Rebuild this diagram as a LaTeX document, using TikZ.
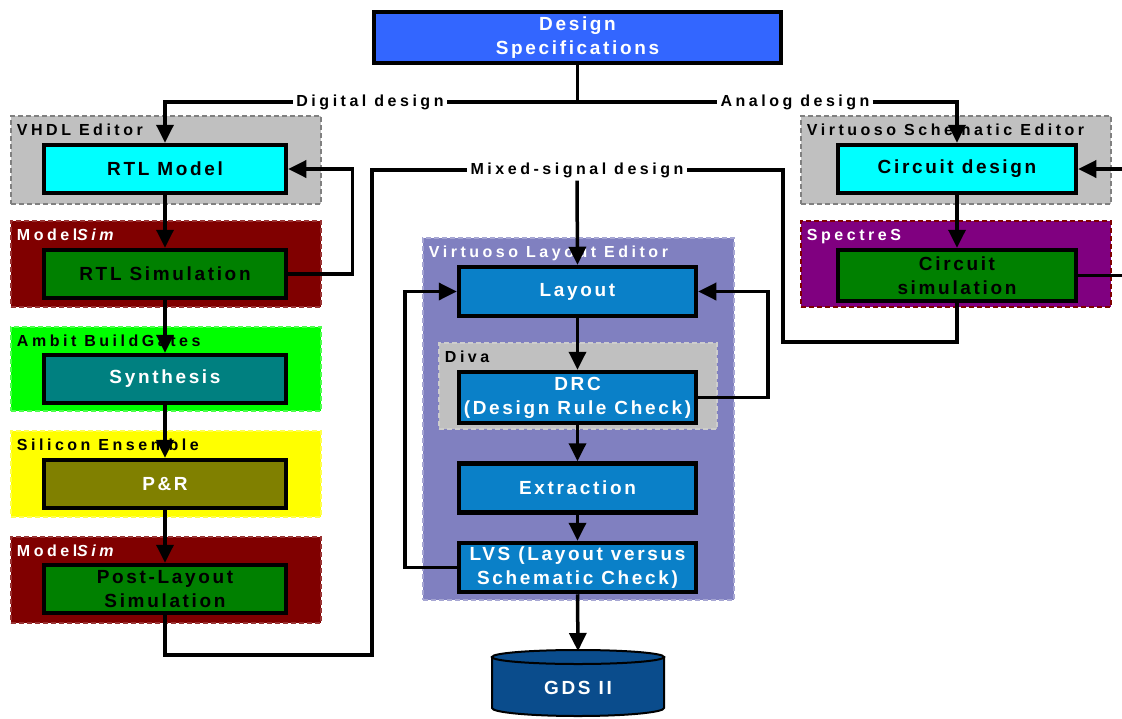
\documentclass[tikz,border=0pt]{standalone}
\usepackage{fontspec}
\setmainfont[LetterSpace=22]{Liberation Sans}
\newfontfamily\boxfont[LetterSpace=14]{Liberation Sans}
\usetikzlibrary{arrows.meta}
\definecolor{specblue}{HTML}{3366FF}
\definecolor{cyanbox}{HTML}{00FFFF}
\definecolor{greenbox}{HTML}{008000}
\definecolor{tealbox}{HTML}{008080}
\definecolor{olivebox}{HTML}{808000}
\definecolor{procblue}{HTML}{0A80C8}
\definecolor{gdsblue}{HTML}{0A4C8C}
\definecolor{grpgray}{HTML}{C0C0C0}
\definecolor{grpred}{HTML}{800000}
\definecolor{grpgreen}{HTML}{00FF00}
\definecolor{grpyellow}{HTML}{FFFF00}
\definecolor{grppurple}{HTML}{800080}
\definecolor{grplav}{HTML}{8080C0}
\begin{document}
\begin{tikzpicture}[x=1pt,y=-1pt,
  grp/.style={line width=2.5pt, dash pattern=on 5pt off 3pt, inner sep=0pt},
  box/.style={draw=black, line width=4.5pt, inner sep=0pt, align=center,
    font=\boxfont\fontsize{19}{24}\selectfont\bfseries},
  glabel/.style={inner sep=0pt, anchor=north west, font=\fontsize{16}{19}\selectfont\bfseries},
  clabel/.style={inner sep=3pt, fill=white, font=\fontsize{16}{19}\selectfont\bfseries},
  ln/.style={line width=3.5pt},
  arr/.style={line width=3.5pt, -{Triangle[length=18pt,width=17pt]}}]
\useasboundingbox (0,0) rectangle (1122,718);

% ---------- groups ----------
\node[grp, draw=gray, fill=grpgray, minimum width=310pt, minimum height=88pt] (gvhdl) at (166,160) {};
\node[grp, draw=grpred!80!white, fill=grpred, minimum width=310pt, minimum height=86pt] (gms1) at (166,264) {};
\node[grp, draw=grpgreen!70!white, fill=grpgreen, minimum width=310pt, minimum height=84pt] (gamb) at (166,369) {};
\node[grp, draw=grpyellow!70!white, fill=grpyellow, minimum width=310pt, minimum height=86pt] (gsil) at (166,474) {};
\node[grp, draw=grpred!80!white, fill=grpred, minimum width=310pt, minimum height=86pt] (gms2) at (166,580) {};
\node[grp, draw=gray, fill=grpgray, minimum width=310pt, minimum height=88pt] (gvse) at (956,160) {};
\node[grp, draw=grpred, fill=grppurple, minimum width=310pt, minimum height=86pt] (gspe) at (956,264) {};
\node[grp, draw=grplav!70!white, fill=grplav, minimum width=311pt, minimum height=362pt] (gvle) at (578.5,419) {};
\node[grp, draw=grpgray!80!white, fill=grpgray, minimum width=278pt, minimum height=86pt] (gdiva) at (578,386) {};

\node[glabel] (lvhdl) at ([shift={(7pt,-9pt)}]gvhdl.north west) {VHDL Editor};
\node[glabel, text=white] (lms1) at ([shift={(7pt,-9pt)}]gms1.north west) {Model\textit{Sim}};
\node[glabel] (lamb) at ([shift={(7pt,-9pt)}]gamb.north west) {Ambit BuildGates};
\node[glabel] (lsil) at ([shift={(7pt,-9pt)}]gsil.north west) {Silicon Ensemble};
\node[glabel, text=white] (lms2) at ([shift={(7pt,-9pt)}]gms2.north west) {Model\textit{Sim}};
\node[glabel] (lvse) at ([shift={(7pt,-9pt)}]gvse.north west) {Virtuoso Schematic Editor};
\node[glabel, text=white] (lspe) at ([shift={(7pt,-9pt)}]gspe.north west) {SpectreS};
\node[glabel, text=white] (lvle) at ([shift={(7pt,-9pt)}]gvle.north west) {Virtuoso Layout Editor};
\node[glabel] (ldiva) at ([shift={(7pt,-9pt)}]gdiva.north west) {Diva};

% ---------- boxes ----------
\node[box, fill=specblue, text=white, minimum width=407pt, minimum height=51pt] (spec) at (577.5,37.5) {Design\\Specifications};
\node[box, fill=cyanbox, minimum width=242pt, minimum height=48pt] (rtl) at (165,169) {RTL Model};
\node[box, fill=greenbox, minimum width=242pt, minimum height=48pt] (rtlsim) at (165,274) {RTL Simulation};
\node[box, fill=tealbox, text=white, minimum width=242pt, minimum height=48pt] (syn) at (165,379) {Synthesis};
\node[box, fill=olivebox, text=white, minimum width=242pt, minimum height=48pt] (pr) at (165,484) {P\&R};
\node[box, fill=greenbox, minimum width=242pt, minimum height=48pt] (post) at (165,589) {Post-Layout\\Simulation};
\node[box, fill=cyanbox, minimum width=238pt, minimum height=48pt] (circ) at (957,169) {Circuit design};
\node[box, fill=greenbox, minimum width=238pt, minimum height=51pt] (csim) at (957,275.5) {Circuit\\simulation};
\node[box, fill=procblue, text=white, minimum width=237pt, minimum height=49pt] (layout) at (577.5,291.5) {Layout};
\node[box, fill=procblue, text=white, minimum width=237pt, minimum height=51pt] (drc) at (577.5,397.5) {DRC\\(Design Rule Check)};
\node[box, fill=procblue, text=white, minimum width=237pt, minimum height=49pt] (extr) at (577.5,488) {Extraction};
\node[box, fill=procblue, text=white, minimum width=237pt, minimum height=49pt] (lvs) at (577.5,567.5) {LVS (Layout versus\\Schematic Check)};

% GDS II cylinder
\draw[line width=2pt, fill=gdsblue] (492,657) -- (492,708)
  arc[start angle=180, end angle=360, x radius=86pt, y radius=8pt] -- (664,657) -- cycle;
\draw[line width=2pt, fill=gdsblue] (578,657) ellipse[x radius=86pt, y radius=7pt];
\node[font=\boxfont\fontsize{19}{24}\selectfont\bfseries, text=white] (gds) at (578,688) {GDS II};
\coordinate (gdstop) at (578,651);

% ---------- connector labels ----------
\node[clabel] (dig) at (370,102) {Digital design};
\node[clabel] (ana) at (795,102) {Analog design};
\node[clabel] (mix) at (577,170) {Mixed-signal design};
\coordinate (split) at (577.5,102);
\coordinate (csimR) at (1122,275.5);
\coordinate (circR) at (1122,169);

% ---------- connectors ----------
\draw[ln] (spec.south) -- (split);
\draw[ln] (split) -- (dig.east);
\draw[ln] (split) -- (ana.west);
\draw[arr] (dig.west) -| (rtl.north);
\draw[arr] (ana.east) -| (circ.north);

\draw[arr] (rtl) -- (rtlsim);
\draw[arr] (rtlsim.east) -- ++(64,0) |- (rtl.east);
\draw[arr] (rtlsim) -- (syn);
\draw[arr] (syn) -- (pr);
\draw[arr] (pr) -- (post);

\draw[arr] (circ) -- (csim);
\draw[ln] (csim.east) -- (csimR);
\draw[arr] (circR) -- (circ.east);

\draw[ln] (post.south) |- (372,655) |- (mix.west);
\draw[ln] (csim.south) |- (783,342) |- (mix.east);
\draw[arr] (mix.south) -- (layout.north);

\draw[arr] (layout) -- (drc);
\draw[arr] (drc) -- (extr);
\draw[arr] (extr) -- (lvs);
\draw[arr] (lvs.south) -- (gdstop);
\draw[arr] (lvs.west) -- (405,567.5) |- (layout.west);
\draw[arr] (drc.east) -- (768,397.5) |- (layout.east);
\end{tikzpicture}
\end{document}
